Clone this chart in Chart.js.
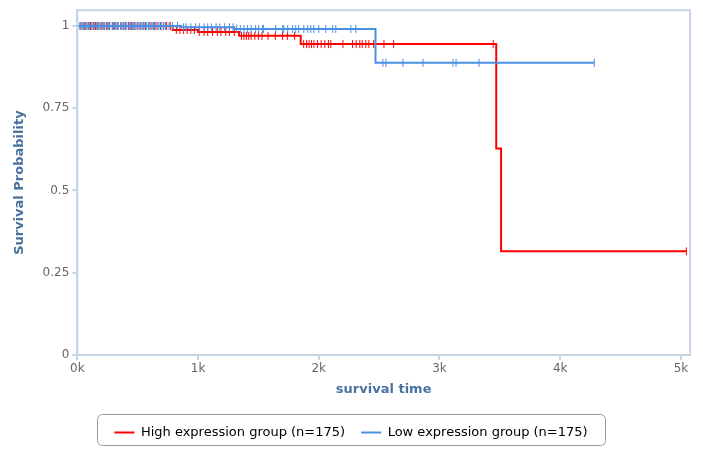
<!DOCTYPE html>
<html>
<head>
<meta charset="utf-8">
<script src="https://cdn.jsdelivr.net/npm/chart.js@4/dist/chart.umd.min.js"></script>
<style>
  body { margin: 0; background: #fff; }
  #wrap { width: 703px; height: 449px; }
</style>
</head>
<body>
<div id="wrap"><canvas id="kmChart"></canvas></div>
<script>
// step points of the two Kaplan-Meier curves (days, survival)
const highTimes = [0, 790, 1000, 1340, 1850, 3470, 3510, 5045];
const highSurv = [1, 0.988, 0.982, 0.97, 0.945, 0.628, 0.315, 0.315];
const lowTimes = [0, 860, 1300, 2470, 4282];
const lowSurv = [1, 0.996, 0.991, 0.888, 0.888];

// censored observations (days)
const highCensor = [30, 55, 70, 90, 110, 135, 150, 170, 195, 220, 240, 265, 290, 310, 330, 360, 380, 400, 425, 450,
    470, 495, 520, 545, 565, 590, 610, 640, 660, 690, 715, 740, 770,
    820, 850, 880, 910, 940, 970, 1010, 1050, 1080, 1120, 1160, 1190, 1230, 1260, 1300,
    1360, 1380, 1400, 1420, 1440, 1470, 1500, 1530, 1580, 1640, 1700, 1740, 1800,
    1875, 1900, 1920, 1940, 1960, 1990, 2020, 2050, 2080, 2100, 2200, 2280, 2310, 2340, 2360, 2390, 2415, 2455,
    2540, 2620, 3445, 5045];
const lowCensor = [20, 30, 40, 50, 60, 80, 95, 100, 120, 130, 140, 160, 175, 180, 200, 210, 225, 250, 260, 270,
    290, 300, 315, 330, 340, 360, 370, 385, 395, 410, 430, 440, 455, 465, 480, 500, 510, 525, 535, 550,
    560, 575, 590, 600, 620, 630, 645, 670, 685, 700, 715, 730, 760, 790, 830,
    880, 900, 940, 980, 1010, 1050, 1080, 1110, 1150, 1180, 1220, 1260, 1290,
    1320, 1350, 1380, 1410, 1440, 1477, 1502, 1535, 1543, 1643, 1701, 1710, 1743, 1784, 1809, 1834,
    1876, 1909, 1934, 1959, 2000, 2058, 2116, 2141, 2266, 2307,
    2531, 2556, 2697, 2863, 3112, 3137, 3328, 4282];

const xTicks = [0, 1000, 2000, 3000, 4000, 5000];
const yTicks = [0, 0.25, 0.5, 0.75, 1];

const HIGH = '#ff0000';
const LOW = '#4a90e2';
const AXIS = '#c6d4e6';

function survAt(times, surv, t) {
    let s = surv[0];
    for (let i = 0; i < times.length; i++) {
        if (times[i] <= t) s = surv[i];
    }
    return s;
}

const toPts = (times, surv) => times.map((t, i) => ({ x: t, y: surv[i] }));
const censorPts = (list, times, surv) => list.map(t => ({ x: t, y: survAt(times, surv, t) }));

// border round the plot area and the legend
const framePlugin = {
    id: 'frame',
    afterDraw(chart) {
        const ctx = chart.ctx;
        const a = chart.chartArea;
        ctx.save();
        ctx.strokeStyle = AXIS;
        ctx.lineWidth = 2;
        ctx.strokeRect(a.left, a.top, a.right - a.left, a.bottom - a.top);
        const lg = chart.legend;
        const w = 508, h = 31;
        const x = lg.left + (lg.width - w) / 2;
        const y = lg.top + (lg.height - h) / 2;
        ctx.strokeStyle = '#999';
        ctx.lineWidth = 1;
        ctx.beginPath();
        ctx.roundRect(x + 0.5, y + 0.5, w, h, 5);
        ctx.stroke();
        ctx.restore();
    }
};

new Chart(document.getElementById('kmChart'), {
    type: 'scatter',
    data: {
        datasets: [
            {
                label: 'Low expression group (n=175)',
                data: toPts(lowTimes, lowSurv),
                showLine: true,
                stepped: 'before',
                borderColor: LOW,
                borderWidth: 2,
                pointRadius: 0
            },
            {
                label: 'low censor',
                data: censorPts(lowCensor, lowTimes, lowSurv),
                pointStyle: 'line',
                rotation: 90,
                pointRadius: 4,
                borderColor: LOW,
                backgroundColor: LOW,
                borderWidth: 1
            },
            {
                label: 'High expression group (n=175)',
                data: toPts(highTimes, highSurv),
                showLine: true,
                stepped: 'before',
                borderColor: HIGH,
                borderWidth: 2,
                pointRadius: 0
            },
            {
                label: 'high censor',
                data: censorPts(highCensor, highTimes, highSurv),
                pointStyle: 'line',
                rotation: 90,
                pointRadius: 4,
                borderColor: HIGH,
                backgroundColor: HIGH,
                borderWidth: 1
            }
        ]
    },
    options: {
        responsive: true,
        maintainAspectRatio: false,
        animation: false,
        layout: { padding: { left: 12, right: 13, top: 0, bottom: 0 } },
        plugins: {
            tooltip: { enabled: false },
            legend: {
                position: 'bottom',
                labels: {
                    font: { family: 'DejaVu Sans', size: 13 },
                    color: '#3d4b5f',
                    boxWidth: 20,
                    boxHeight: 2,
                    padding: 16,
                    generateLabels: () => [
                        { text: 'High expression group (n=175)', fillStyle: HIGH, strokeStyle: HIGH, lineWidth: 0, datasetIndex: 2 },
                        { text: 'Low expression group (n=175)', fillStyle: LOW, strokeStyle: LOW, lineWidth: 0, datasetIndex: 0 }
                    ]
                }
            }
        },
        scales: {
            x: {
                type: 'linear',
                min: 0,
                max: 5075,
                afterBuildTicks: (axis) => { axis.ticks = xTicks.map(v => ({ value: v })); },
                ticks: {
                    color: '#666',
                    font: { family: 'DejaVu Sans', size: 12 },
                    maxRotation: 0,
                    padding: 2,
                    callback: (v) => (v / 1000) + 'k'
                },
                grid: { drawOnChartArea: false, drawTicks: true, tickLength: 5, color: AXIS, lineWidth: 2 },
                border: { color: AXIS, width: 2 },
                title: {
                    display: true,
                    text: 'survival time',
                    color: '#4a72a0',
                    font: { family: 'DejaVu Sans', size: 13, weight: 'bold' },
                    padding: { top: 3, bottom: 13 }
                }
            },
            y: {
                min: 0,
                max: 1.048,
                afterBuildTicks: (axis) => { axis.ticks = yTicks.map(v => ({ value: v })); },
                ticks: {
                    color: '#666',
                    font: { family: 'DejaVu Sans', size: 12 },
                    padding: 3,
                    callback: (v) => String(v)
                },
                grid: { drawOnChartArea: false, drawTicks: true, tickLength: 5, color: AXIS, lineWidth: 2 },
                border: { color: AXIS, width: 2 },
                title: {
                    display: true,
                    text: 'Survival Probability',
                    color: '#4a72a0',
                    font: { family: 'DejaVu Sans', size: 13, weight: 'bold' },
                    padding: { top: 0, bottom: 12 }
                }
            }
        }
    },
    plugins: [framePlugin]
});
</script>
</body>
</html>
